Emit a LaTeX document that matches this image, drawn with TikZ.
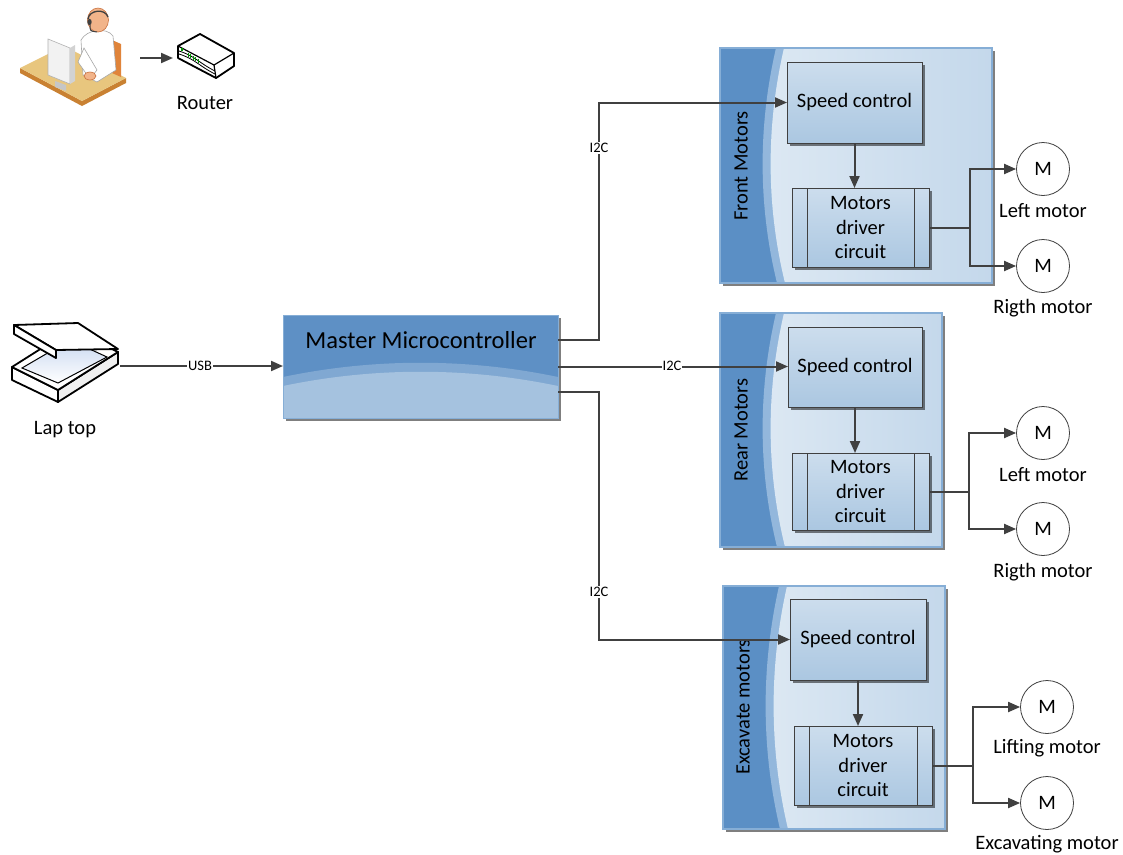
\documentclass[tikz,border=0pt]{standalone}
\usepackage{fontspec}
\setmainfont{Carlito}
\usetikzlibrary{arrows.meta,calc,shadows}

\definecolor{ink}{HTML}{404040}
\definecolor{paneldark}{HTML}{5B8FC5}
\definecolor{panelband}{HTML}{93B7DC}
\definecolor{panellightA}{HTML}{DCE8F3}
\definecolor{panellightB}{HTML}{C4D8EB}
\definecolor{paneledge}{HTML}{86AED6}
\definecolor{boxtop}{HTML}{CCDDED}
\definecolor{boxbot}{HTML}{ABC7E1}
\definecolor{mcdark}{HTML}{5E90C5}
\definecolor{mcband}{HTML}{80A8D2}
\definecolor{mclight}{HTML}{A5C2DF}
\definecolor{desktop}{HTML}{E8C67E}
\definecolor{deskedge}{HTML}{C98132}
\definecolor{chair}{HTML}{E0843A}
\definecolor{skin}{HTML}{F2B48A}
\definecolor{skinedge}{HTML}{C9703E}
\definecolor{glass}{HTML}{C9D8F0}

\tikzset{
  txt/.style={font=\fontsize{20.5}{24.5}\selectfont, inner sep=1pt},
  small/.style={font=\fontsize{14.5}{16}\selectfont, fill=white, inner sep=1pt},
  arr/.style={draw=ink, line width=2pt, -{Triangle[length=12pt,width=10pt]}},
  wire/.style={draw=ink, line width=2pt},
  shadowed/.style={drop shadow={shadow xshift=3pt, shadow yshift=-3pt, fill=black, opacity=0.5}},
  frame/.style={inner sep=0pt, outer sep=0pt, minimum width=#1},
  ctrlbox/.style={shadowed, draw=ink, line width=1pt, top color=boxtop, bottom color=boxbot,
    inner sep=0pt, outer sep=0pt, align=center, font=\fontsize{20.5}{24.5}\selectfont},
  drvbox/.style={ctrlbox, path picture={
      \draw[ink, line width=1pt]
        ($(path picture bounding box.north west)+(15,0)$) -- ($(path picture bounding box.south west)+(15,0)$)
        ($(path picture bounding box.north east)+(-15,0)$) -- ($(path picture bounding box.south east)+(-15,0)$);}},
  motor/.style={circle, draw=ink, line width=0.8pt, fill=white, minimum size=53pt, inner sep=0pt,
    font=\fontsize{20.5}{24.5}\selectfont},
  panel/.style={shadowed, draw=paneledge, line width=1.2pt, inner sep=0pt, outer sep=0pt,
    path picture={
      \path (path picture bounding box.north west) coordinate (pa)
            (path picture bounding box.south west) coordinate (pb)
            (path picture bounding box.south east) coordinate (pc)
            (path picture bounding box.north east) coordinate (pd);
      \fill[paneldark] (pa) rectangle (pc);
      \fill[panelband] ($(pa)+(56,0)$) .. controls ($(pa)!0.33!(pb)+(38,0)$) and ($(pa)!0.67!(pb)+(38,0)$)
        .. ($(pb)+(57,0)$) -- (pc) -- (pd) -- cycle;
      \shade[left color=panellightA, right color=panellightB]
        ($(pa)+(64,0)$) .. controls ($(pa)!0.33!(pb)+(46,0)$) and ($(pa)!0.67!(pb)+(46,0)$)
        .. ($(pb)+(65,0)$) -- (pc) -- (pd) -- cycle;}},
  mcbox/.style={shadowed, draw=paneledge, line width=0.8pt, inner sep=0pt, outer sep=0pt,
    path picture={
      \path (path picture bounding box.north west) coordinate (pa)
            (path picture bounding box.south west) coordinate (pb)
            (path picture bounding box.south east) coordinate (pc)
            (path picture bounding box.north east) coordinate (pd);
      \fill[mcdark] (pa) rectangle (pc);
      \fill[mcband] ($(pa)+(0,62)$) .. controls ($(pa)!0.33!(pd)+(0,43)$) and ($(pa)!0.67!(pd)+(0,43)$)
        .. ($(pd)+(0,62)$) -- (pc) -- (pb) -- cycle;
      \fill[mclight] ($(pa)+(0,71)$) .. controls ($(pa)!0.33!(pd)+(0,52)$) and ($(pa)!0.67!(pd)+(0,52)$)
        .. ($(pd)+(0,71)$) -- (pc) -- (pb) -- cycle;}},
  iconline/.style={draw=black, line width=1.8pt, line join=round}
}

\begin{document}
\begin{tikzpicture}[x=1pt, y=-1pt]
\useasboundingbox[fill=white] (0,0) rectangle (1123,854);

% ---------- operator at the desk ----------
\node[frame=120, minimum height=96] (user) at (80,58) {};
\fill[deskedge] (20,68) -- (82,101) -- (126,78) -- (126,83) -- (82,106) -- (20,73) -- cycle;
\fill[desktop] (20,68) -- (64,46) -- (126,78) -- (82,101) -- cycle;
\fill[chair] (112,40) -- (121,44) -- (121,77) -- (112,73) -- cycle;
\filldraw[fill=white, draw=gray!70, line width=0.6pt]
  (81,40) .. controls (87,29) and (107,27) .. (113,36) -- (116,70) -- (97,82) -- (83,75) -- cycle;
\filldraw[fill=white, draw=gray!70, line width=0.6pt] (84,48) -- (97,70) -- (90,79) -- (78,62) -- cycle;
\filldraw[fill=skin, draw=skinedge, line width=0.6pt] (90,76) ellipse (6 and 4);
\filldraw[fill=skin, draw=skinedge, line width=0.6pt] (98,20) ellipse (10.5 and 12);
\draw[black!75, line width=1.3pt] (88,19) .. controls (89,10) and (105,8) .. (108,17);
\draw[black!75, line width=1pt] (90,25) .. controls (90,31) .. (97,32);
\fill[black!75] (89.5,22) ellipse (2.2 and 3.2);
\filldraw[fill=gray!10, draw=gray!60, line width=0.6pt] (48,39) -- (70,48) -- (70,84) -- (48,75) -- cycle;
\fill[gray!35] (70,48) -- (75,45) -- (75,81) -- (70,84) -- cycle;
\fill[gray!45] (55,81) -- (66,85) -- (66,91) -- (55,87) -- cycle;

% ---------- router ----------
\node[frame=62, minimum height=46] (router) at (204,58) {};
\filldraw[fill=white, iconline] (178,46) -- (200,34) -- (234,53) -- (234,66) -- (216,78) -- (178,58) -- cycle;
\draw[black, line width=1.2pt] (178,46) -- (214,65) -- (234,53) (214,65) -- (216,78);
\draw[black, line width=0.8pt] (179,51) .. controls (195,56) and (199,63) .. (215,71);
\draw[black, line width=0.8pt] (179,54) .. controls (195,59) and (199,66) .. (215,74);
\fill[green!60!black] (180.5,48) rectangle (183,50.5);
\foreach \i in {0,...,4}
  \draw[green!60!black, line width=1pt] ({188+2.6*\i},{53+1.4*\i}) -- ++(0,4);
\node[txt] (routerlbl) at (205,103) {Router};
\draw[arr] (user.east) -- (router.west);

% ---------- lap top ----------
\node[frame=110, minimum height=90] (laptop) at (65,366) {};
\filldraw[fill=white, iconline] (12,367) -- (58,390) -- (58,402) -- (12,380) -- cycle;
\filldraw[fill=gray!12, iconline] (58,390) -- (118,352) -- (118,364) -- (58,402) -- cycle;
\filldraw[fill=white, iconline] (12,367) -- (72,329) -- (118,352) -- (58,390) -- cycle;
\shade[top color=glass, bottom color=white, draw=black, line width=1pt] (22,368) -- (70,340) -- (107,357) -- (58,383) -- cycle;
\filldraw[fill=white, iconline] (14,325) -- (78,323) -- (118,349) -- (56,350) -- cycle;
\filldraw[fill=white, iconline] (14,325) -- (56,350) -- (56,358) -- (14,334) -- cycle;
\node[txt] (laptoplbl) at (65,430) {Lap top};

% ---------- master ----------
\node[mcbox, minimum width=275, minimum height=103] (mc) at (420.5,366.5) {};
\node[font=\fontsize{24.5}{28}\selectfont, inner sep=0pt] (mctext) at (421,340) {Master Microcontroller};
\draw[arr] (laptop.east) -- (laptop.east -| mc.west);
\node[small] (usb) at (200,366) {USB};

% ---------- motor groups ----------
\node[panel, minimum width=272, minimum height=235] (fp) at (856,165.5) {};
\node[txt, rotate=90] (fpl) at (741,166) {Front Motors};
\node[ctrlbox, minimum width=135, minimum height=81] (fsc) at (854.5,102.5) {Speed control};
\node[drvbox, minimum width=137, minimum height=79] (fdc) at (860.5,227.5) {Motors\\driver\\circuit};
\node[motor] (fm1) at (1043,169) {M};
\node[motor] (fm2) at (1043,266) {M};
\node[txt] (fm1l) at (1043,211) {Left motor};
\node[txt] (fm2l) at (1043,308) {Rigth motor};

\node[panel, minimum width=222, minimum height=234] (rp) at (831,430) {};
\node[txt, rotate=90] (rpl) at (741,430) {Rear Motors};
\node[ctrlbox, minimum width=134, minimum height=80] (rsc) at (855,367) {Speed control};
\node[drvbox, minimum width=137, minimum height=77] (rdc) at (860.5,491.5) {Motors\\driver\\circuit};
\node[motor] (rm1) at (1043,433) {M};
\node[motor] (rm2) at (1043,529) {M};
\node[txt] (rm1l) at (1043,475) {Left motor};
\node[txt] (rm2l) at (1043,572) {Rigth motor};

\node[panel, minimum width=222, minimum height=243] (ep) at (834,707.5) {};
\node[txt, rotate=90] (epl) at (743,707) {Excavate motors};
\node[ctrlbox, minimum width=136, minimum height=81] (esc) at (858,639.5) {Speed control};
\node[drvbox, minimum width=138, minimum height=79] (edc) at (863,765.5) {Motors\\driver\\circuit};
\node[motor] (em1) at (1047,707) {M};
\node[motor] (em2) at (1047,803) {M};
\node[txt] (em1l) at (1047,748) {Lifting motor};
\node[txt] (em2l) at (1047,844) {Excavating motor};

% ---------- buses from the master ----------
\draw[arr] ([yshift=26.5pt]mc.east) -- ++(41,0) |- (fsc.west);
\draw[arr] (mc.east) -- (mc.east -| rsc.west);
\draw[arr] ([yshift=-25.5pt]mc.east) -- ++(41,0) |- (esc.west);
\node[small] (i2ca) at (599,148) {I2C};
\node[small] (i2cb) at (672,366) {I2C};
\node[small] (i2cc) at (599,592) {I2C};

% ---------- inside each group ----------
\draw[arr] (fsc.south) -- (fsc.south |- fdc.north);
\draw[arr] (rsc.south) -- (rsc.south |- rdc.north);
\draw[arr] (esc.south) -- (esc.south |- edc.north);

\coordinate (fj) at ($(fdc.east)+(41,0)$);
\coordinate (rj) at ($(rdc.east)+(40,0)$);
\coordinate (ej) at ($(edc.east)+(41,0)$);
\draw[wire] (fdc.east) -- (fj);
\draw[wire] (rdc.east) -- (rj);
\draw[wire] (edc.east) -- (ej);
\draw[arr] (fj) |- (fm1.west);
\draw[arr] (fj) |- (fm2.west);
\draw[arr] (rj) |- (rm1.west);
\draw[arr] (rj) |- (rm2.west);
\draw[arr] (ej) |- (em1.west);
\draw[arr] (ej) |- (em2.west);
\end{tikzpicture}
\end{document}
